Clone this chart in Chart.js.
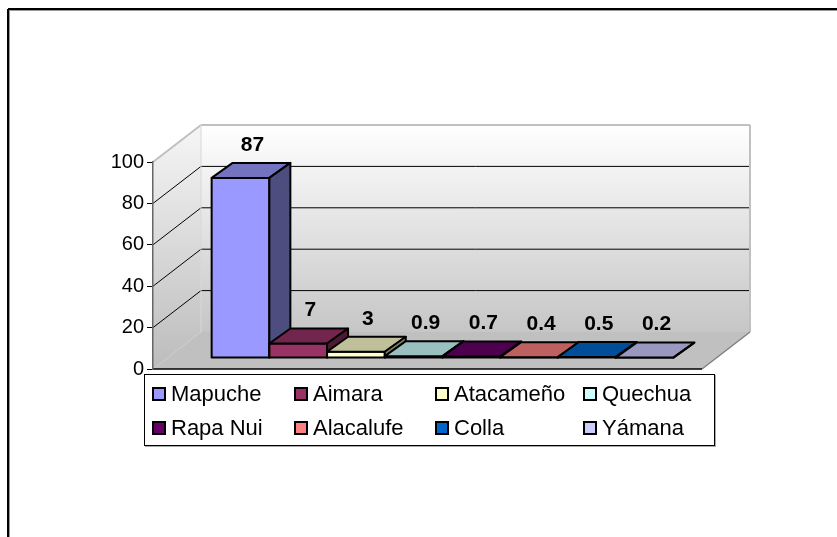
<!DOCTYPE html>
<html>
<head>
<meta charset="utf-8">
<script src="https://cdn.jsdelivr.net/npm/chart.js@4.4.0/dist/chart.umd.min.js"></script>
<style>
  body { margin:0; background:#fff; }
  #wrap { position:relative; width:837px; height:537px; overflow:hidden; font-family:"Liberation Sans", Arial, sans-serif; }
  #myChart { position:absolute; left:0; top:0; }
  #leyenda { position:absolute; left:144px; top:374px; width:569px; height:70px; border:1px solid #000; box-shadow:1px 1px 0 #aaa; background:#fff; }
  .item { position:absolute; height:24px; display:flex; align-items:center; font-size:22px; white-space:nowrap; color:#000; }
  .item .box { width:14px; height:14px; box-sizing:border-box; border:2px solid #000; margin-right:5px; }
</style>
</head>
<body>
<div id="wrap">
  <canvas id="myChart" width="837" height="537"></canvas>
  <div id="leyenda"></div>
</div>
<script>
const grupos = ['Mapuche', 'Aimara', 'Atacameño', 'Quechua', 'Rapa Nui', 'Alacalufe', 'Colla', 'Yámana']
const valores = [87, 7, 3, 0.9, 0.7, 0.4, 0.5, 0.2]
const colores = ['#9999FF', '#993366', '#FFFFCC', '#CCFFFF', '#660066', '#FF8080', '#0066CC', '#CCCCFF']
const ticksY = [0, 20, 40, 60, 80, 100]

// profundidad del cubo y de las barras
const fondo = { dx: 48, dy: 37 }
const barra = { ox: 15, oy: 11, dx: 21, dy: 15 }

function oscurecer(hex, f) {
  const n = parseInt(hex.slice(1), 16)
  const r = Math.round(((n >> 16) & 255) * f)
  const g = Math.round(((n >> 8) & 255) * f)
  const b = Math.round((n & 255) * f)
  return 'rgb(' + r + ',' + g + ',' + b + ')'
}

function poly(ctx, pts, fill, stroke, lw) {
  ctx.beginPath()
  ctx.moveTo(pts[0][0], pts[0][1])
  for (let i = 1; i < pts.length; i++) ctx.lineTo(pts[i][0], pts[i][1])
  ctx.closePath()
  if (fill) { ctx.fillStyle = fill; ctx.fill() }
  if (stroke) { ctx.strokeStyle = stroke; ctx.lineWidth = lw; ctx.stroke() }
}

function linea(ctx, x0, y0, x1, y1, color, lw) {
  ctx.beginPath()
  ctx.moveTo(x0, y0)
  ctx.lineTo(x1, y1)
  ctx.strokeStyle = color
  ctx.lineWidth = lw
  ctx.stroke()
}

const tresD = {
  id: 'tresD',
  beforeDraw(chart) {
    const ctx = chart.ctx
    const a = chart.chartArea
    const sy = chart.scales.y
    const L = a.left, R = a.right
    const T = sy.getPixelForValue(ticksY[ticksY.length - 1])
    const B = sy.getPixelForValue(0)
    const dx = fondo.dx, dy = fondo.dy
    ctx.save()

    // marco exterior
    linea(ctx, 8, 10, 837, 10, '#999', 2)
    linea(ctx, 9, 11, 9, 537, '#999', 2)
    linea(ctx, 8, 9, 837, 9, '#000', 2)
    linea(ctx, 8, 9, 8, 537, '#000', 2)

    // pared izquierda
    let g = ctx.createLinearGradient(0, T - dy, 0, B)
    g.addColorStop(0, '#f6f6f6')
    g.addColorStop(1, '#bcbcbc')
    poly(ctx, [[L, T], [L + dx, T - dy], [L + dx, B - dy], [L, B]], g)

    // pared del fondo
    g = ctx.createLinearGradient(0, T - dy, 0, B - dy)
    g.addColorStop(0, '#ffffff')
    g.addColorStop(1, '#c6c6c6')
    poly(ctx, [[L + dx, T - dy], [R + dx, T - dy], [R + dx, B - dy], [L + dx, B - dy]], g)

    // piso
    poly(ctx, [[L, B], [R, B], [R + dx, B - dy], [L + dx, B - dy]], '#c0c0c0')

    // lineas de division
    ticksY.forEach(v => {
      if (v === 0 || v === ticksY[ticksY.length - 1]) return
      const p = sy.getPixelForValue(v)
      linea(ctx, L, p, L + dx, p - dy, '#000', 1)
      linea(ctx, L + dx, p - dy, R + dx, p - dy, '#000', 1)
    })

    // bordes de las paredes
    linea(ctx, L, T, L + dx, T - dy, '#c0c0c0', 2)
    linea(ctx, L + dx, T - dy, R + dx, T - dy, '#c0c0c0', 2)
    linea(ctx, R + dx, T - dy, R + dx, B - dy, '#c0c0c0', 2)
    linea(ctx, L + dx, T - dy, L + dx, B - dy, '#d8d8d8', 1)
    linea(ctx, R, B, R + dx, B - dy, '#808080', 1.5)
    linea(ctx, L, B, R, B, '#000', 1.5)
    ctx.restore()
  },
  beforeDatasetsDraw(chart) {
    const ctx = chart.ctx
    ctx.save()
    ctx.lineJoin = 'round'
    const cajas = []
    chart.data.datasets.forEach((ds, i) => {
      const el = chart.getDatasetMeta(i).data[0]
      const p = el.getProps(['x', 'y', 'base', 'width'], true)
      const x0 = p.x - p.width / 2 + barra.ox
      const x1 = p.x + p.width / 2 + barra.ox
      const yt = p.y - barra.oy
      const yb = p.base - barra.oy
      const c = colores[i]
      poly(ctx, [[x0, yt], [x1, yt], [x1, yb], [x0, yb]], c, '#000', 2)
      poly(ctx, [[x0, yt], [x1, yt], [x1 + barra.dx, yt - barra.dy], [x0 + barra.dx, yt - barra.dy]], oscurecer(c, 0.75), '#000', 2)
      poly(ctx, [[x1, yt], [x1 + barra.dx, yt - barra.dy], [x1 + barra.dx, yb - barra.dy], [x1, yb]], oscurecer(c, 0.5), '#000', 2)
      cajas.push({ x: (x0 + x1) / 2 + 12, y: yt - 33, t: String(ds.data[0]) })
    })
    ctx.fillStyle = '#000'
    ctx.font = 'bold 21px "Liberation Sans", Arial, sans-serif'
    ctx.textAlign = 'center'
    ctx.textBaseline = 'middle'
    cajas.forEach(c => ctx.fillText(c.t, c.x, c.y))
    ctx.restore()
    return false
  }
}

const ctx = document.getElementById('myChart')

new Chart(ctx, {
  type: 'bar',
  data: {
    labels: [''],
    datasets: grupos.map((nombre, i) => ({
      label: nombre,
      data: [valores[i]],
      backgroundColor: colores[i]
    }))
  },
  options: {
    responsive: false,
    animation: false,
    events: [],
    layout: { padding: { left: 0, right: 135, top: 162, bottom: 168 } },
    datasets: { bar: { categoryPercentage: 0.841, barPercentage: 1 } },
    scales: {
      x: { display: false },
      y: {
        min: 0,
        max: 100,
        afterBuildTicks: s => { s.ticks = ticksY.map(v => ({ value: v })) },
        afterFit: s => { s.width = 153 },
        ticks: { color: '#000', padding: 3, font: { family: '"Liberation Sans", Arial, sans-serif', size: 20 } },
        grid: { drawOnChartArea: false, drawTicks: true, tickLength: 6, color: '#000' },
        border: { display: true, color: '#666', width: 1.5 }
      }
    },
    plugins: {
      legend: { display: false },
      tooltip: { enabled: false }
    }
  },
  plugins: [tresD]
})

// leyenda en dos filas de cuatro
const leyenda = document.getElementById('leyenda')
const colX = [7, 149, 290, 438]
const filaY = [7, 41]
grupos.forEach((nombre, i) => {
  const item = document.createElement('div')
  item.className = 'item'
  item.style.left = colX[i % 4] + 'px'
  item.style.top = filaY[Math.floor(i / 4)] + 'px'
  const box = document.createElement('div')
  box.className = 'box'
  box.style.background = colores[i]
  item.appendChild(box)
  item.appendChild(document.createTextNode(nombre))
  leyenda.appendChild(item)
})
</script>
</body>
</html>
